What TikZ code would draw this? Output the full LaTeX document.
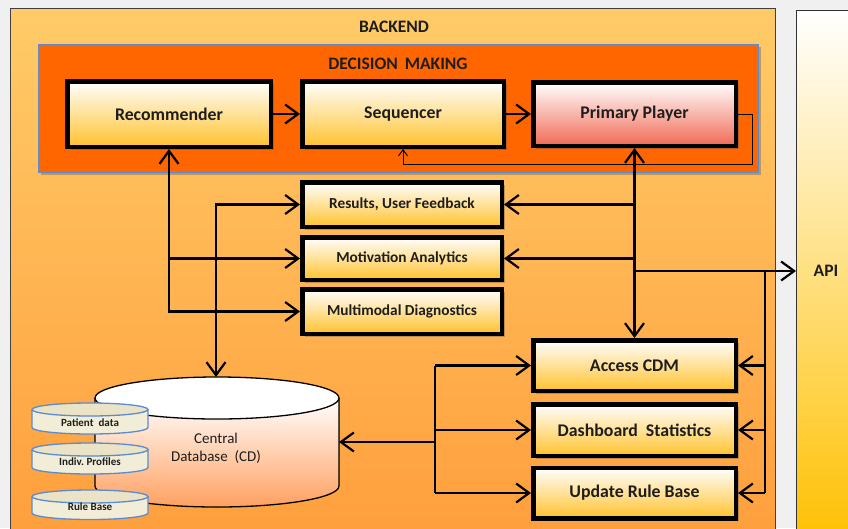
\documentclass[tikz,border=0pt]{standalone}
\usepackage{fontspec}
\setmainfont{Carlito}
\usetikzlibrary{arrows.meta,shadows}
\definecolor{bgray}{HTML}{F0F0F0}
\definecolor{backtop}{HTML}{FFCB68}
\definecolor{backbot}{HTML}{FF9E3C}
\definecolor{dmorange}{HTML}{FF6600}
\definecolor{dmblue}{HTML}{5B8BD0}
\definecolor{boxyel}{HTML}{FFC22E}
\definecolor{boxred}{HTML}{F06A55}
\definecolor{apiyel}{HTML}{FFC000}
\definecolor{apipeach}{HTML}{FFE9CC}
\definecolor{cdorange}{HTML}{FFA060}
\definecolor{beigebody}{HTML}{F2EDD7}
\definecolor{beigetop}{HTML}{EAE3C6}
\definecolor{txt}{HTML}{1E1E1E}
\newcommand\dbcyl[5]{% name, yt, yb, text y, text
  \fill[beigebody] (32,#2) -- (32,#3) .. controls (32,{#3+3.6}) and (58,{#3+6.5}) .. (90,{#3+6.5}) .. controls (122,{#3+6.5}) and (148,{#3+3.6}) .. (148,#3) -- (148,#2) -- cycle;
  \draw[cylb] (32,#2) -- (32,#3) .. controls (32,{#3+3.6}) and (58,{#3+6.5}) .. (90,{#3+6.5}) .. controls (122,{#3+6.5}) and (148,{#3+3.6}) .. (148,#3) -- (148,#2);
  \draw[cylb, fill=beigetop] (90,#2) ellipse [x radius=58pt, y radius=6.5pt];
  \node[smalltxt] (#1) at (90,#4) {#5};
}
\begin{document}
\begin{tikzpicture}[x=1pt,y=-1pt,
  >={Straight Barb[length=13pt,width=19pt]},
  shad/.style={drop shadow={shadow xshift=3pt,shadow yshift=-3pt,opacity=0.35,fill=black!70}},
  bigbox/.style={draw=black, line width=4.5pt, top color=white, middle color=boxyel!30!white, bottom color=boxyel, text=txt, font=\fontsize{17.8pt}{21pt}\selectfont\bfseries, shad},
  midbox/.style={bigbox, font=\fontsize{15.3pt}{18pt}\selectfont\bfseries},
  redbox/.style={bigbox, middle color=boxred!30!white, bottom color=boxred},
  conn/.style={draw=black, line width=2.2pt},
  fbline/.style={draw=black, line width=1pt, -{Straight Barb[length=6pt,width=9pt]}},
  cylb/.style={draw=dmblue, line width=1.3pt},
  smalltxt/.style={text=txt, font=\fontsize{11pt}{13pt}\selectfont\bfseries},
  title/.style={text=txt, font=\fontsize{17.5pt}{20pt}\selectfont\bfseries},
]
\useasboundingbox (0,0) rectangle (848,528);
\clip (0,0) rectangle (848,528);
\fill[bgray] (0,0) rectangle (848,528);
% backend
\draw[draw=black!75, line width=1pt, top color=backtop, bottom color=backbot] (10,8) rectangle (775,545);
\node[title] (backend) at (394,27) {BACKEND};
% API
\draw[draw=black!80, line width=1pt, top color=white, middle color=apipeach, bottom color=apiyel] (796,10) rectangle (880,545);
\node[title] (api) at (826,271) {API};
\coordinate (apiL) at (796,271);
% decision making
\draw[fill=dmorange, draw=dmblue, line width=1pt, shad] (38,44) rectangle (758,172);
\node[title] (dm) at (398,64) {DECISION\ \,MAKING};
% feedback loop
\coordinate (fb) at (752,164);
% boxes
\node[bigbox, minimum width=203.5pt, minimum height=65.5pt] (rec) at (169,114) {Recommender};
\node[bigbox, minimum width=201.5pt, minimum height=65.5pt] (seq) at (403,114) {Sequencer};
\node[redbox, minimum width=202.5pt, minimum height=63.5pt] (prim) at (634.5,114) {Primary Player};
\node[midbox, minimum width=199.5pt, minimum height=44.5pt] (res) at (402,204.5) {Results, User Feedback};
\node[midbox, minimum width=199.5pt, minimum height=42.5pt] (mot) at (402,258.5) {Motivation Analytics};
\node[midbox, minimum width=199.5pt, minimum height=44.5pt] (mul) at (402,311.5) {Multimodal Diagnostics};
\node[bigbox, minimum width=202.5pt, minimum height=50.5pt] (acc) at (634.5,365.5) {Access CDM};
\node[bigbox, minimum width=202.5pt, minimum height=51.5pt] (dash) at (634.5,430) {Dashboard\ \ Statistics};
\node[bigbox, minimum width=202.5pt, minimum height=50.5pt] (upd) at (634.5,493) {Update Rule Base};
\draw[fbline] (prim.east) -| (fb) -| (seq.south);
% central database
\coordinate (cdT) at (216,377);
\coordinate (cdR) at (339,442);
\fill[top color=white, bottom color=cdorange] (95,398) -- (95,486) .. controls (95,497.6) and (149.6,507) .. (217,507) .. controls (284.4,507) and (339,497.6) .. (339,486) -- (339,398) -- cycle;
\draw[line width=1.3pt] (95,398) -- (95,486) .. controls (95,497.6) and (149.6,507) .. (217,507) .. controls (284.4,507) and (339,497.6) .. (339,486) -- (339,398);
\draw[line width=1.3pt, fill=white] (217,398) ellipse [x radius=122pt, y radius=21pt];
\node[text=txt, font=\fontsize{15pt}{18pt}\selectfont, align=center] (cd) at (216,448) {Central\\Database\ \ (CD)};
\dbcyl{pd}{409.5}{427.5}{422.5}{Patient\ \ data}
\dbcyl{ip}{449.5}{467.5}{462}{Indiv.\ Profiles}
\dbcyl{rb}{496.5}{513}{507}{Rule Base}
% connectors
\draw[conn,->] (rec.east) -- (seq.west);
\draw[conn,->] (seq.east) -- (prim.west);
\draw[conn,<->] (rec.south) |- (mul.west);
\draw[conn,->] (rec.south |- mot.west) -- (mot.west);
\draw[conn,<->] (cdT) |- (res.west);
\draw[conn,<->] (prim.south) -- (acc.north);
\draw[conn,->] (prim.south |- res.east) -- (res.east);
\draw[conn,->] (prim.south |- mot.east) -- (mot.east);
\draw[conn,->] (prim.south |- apiL) -- (apiL);
\coordinate (rbus) at (765,271);
\draw[conn] (rbus) -- (rbus |- upd.east);
\draw[conn,->] (rbus |- acc.east) -- (acc.east);
\draw[conn,->] (rbus |- dash.east) -- (dash.east);
\draw[conn,->] (rbus |- upd.east) -- (upd.east);
\coordinate (lbus) at (435,442);
\draw[conn] (lbus |- acc.west) -- (lbus |- upd.west);
\draw[conn,->] (lbus |- acc.west) -- (acc.west);
\draw[conn,->] (lbus |- dash.west) -- (dash.west);
\draw[conn,->] (lbus |- upd.west) -- (upd.west);
\draw[conn,->] (lbus) -- (cdR);
\end{tikzpicture}
\end{document}
